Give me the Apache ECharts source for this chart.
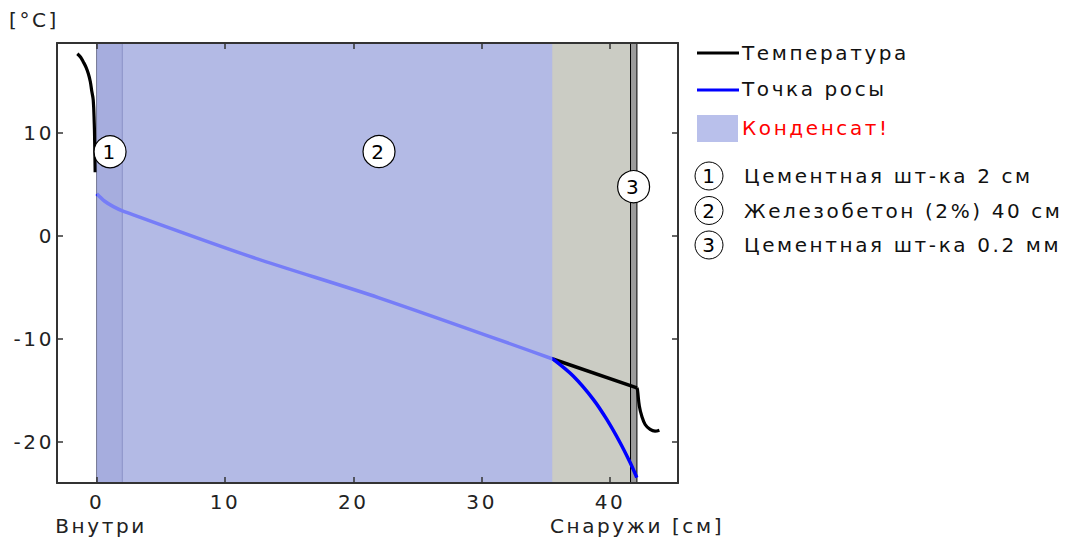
<!DOCTYPE html>
<html><head><meta charset="utf-8">
<script src="https://cdn.jsdelivr.net/npm/echarts@6/dist/echarts.min.js"></script>
<style>
html,body{margin:0;padding:0;background:#fff;}
#chart{width:1073px;height:543px;}
#chart svg text{letter-spacing:2.6px;}
</style></head><body><div id="chart"></div>
<script>
// ---- data ----
const xTickValues = [0, 10, 20, 30, 40];
const yTickValues = [-20, -10, 0, 10];
const layerNames = ['1', '2', '3'];
const layerDescriptions = ['Цементная шт-ка 2 см', 'Железобетон (2%) 40 см', 'Цементная шт-ка 0.2 мм'];
const layerStart = [0, 2, 41.6];
const layerEnd = [2, 41.6, 42.1];
const layerLabelX = [1.04, 22.0, 41.84];
const layerLabelY = [8.18, 8.2, 4.79];
const condensationZone = [0, 35.5];
const tempInsideX = [-1.51, -1.25, -1.04, -0.82, -0.65, -0.5, -0.39, -0.27, -0.19, -0.16, -0.12];
const tempInsideY = [17.7, 17.35, 16.9, 16.35, 15.75, 15.0, 14.1, 13.2, 10.9, 9.3, 6.2];
const tempWallX = [35.54, 42.1];
const tempWallY = [-11.94, -14.74];
const tempOutsideX = [42.1, 42.14, 42.29, 42.48, 42.74, 43.13, 43.51, 43.85];
const tempOutsideY = [-14.74, -14.91, -16.52, -17.49, -18.30, -18.78, -18.94, -18.85];
const dewInnerX = [0, 0.6, 1.3, 2, 12, 22, 35.54];
const dewInnerY = [4.1, 3.4, 2.85, 2.45, -2.0, -6.0, -11.94];
const dewOuterX = [35.54, 37.15, 38.71, 39.75, 40.79, 41.57, 42.09];
const dewOuterY = [-11.94, -13.62, -15.88, -17.81, -20.07, -22.0, -23.46];

// ---- style ----
const FONT = '"DejaVu Sans", Verdana, sans-serif';
const FS = 20;
const X_MIN = -3.094, X_MAX = 45.30, Y_MIN = -23.98, Y_MAX = 18.74;
const layerFills = ['#a2a2aa', '#cbccc4', '#9c9c9c'];
const layerStrokes = ['#55556a', '#55556a', '#000'];
const zip = (xs, ys) => xs.map((x, i) => [x, ys[i]]);

const chart = echarts.init(document.getElementById('chart'), null, {renderer: 'svg'});

function bandRender(fillFn, strokeFn, lw) {
  return function (params, api) {
    const p0 = api.coord([api.value(0), Y_MAX]);
    const p1 = api.coord([api.value(1), Y_MIN]);
    const i = api.value(2);
    return {
      type: 'rect',
      shape: {x: p0[0], y: p0[1], width: p1[0] - p0[0], height: p1[1] - p0[1]},
      style: {fill: fillFn(i), stroke: strokeFn(i), lineWidth: lw}
    };
  };
}

const lineSeries = (name, data, color, smooth, w) => ({
  type: 'line', name, data, smooth, showSymbol: false, symbol: 'none', silent: true, z: 2,
  lineStyle: {color, width: w}, clip: true
});

const axisCommon = {
  type: 'value', z: 5,
  splitLine: {show: false},
  axisLine: {show: true, onZero: false, lineStyle: {color: '#333', width: 2}},
};
const tickStyle = (vals) => ({show: true, inside: true, length: 6, customValues: vals, lineStyle: {color: '#333', width: 1.5}});

const option = {
  animation: false,
  backgroundColor: '#fff',
  grid: {left: 57, top: 43, width: 621, height: 440, containLabel: false},
  xAxis: [
    Object.assign({}, axisCommon, {
      min: X_MIN, max: X_MAX, position: 'bottom',
      axisTick: tickStyle(xTickValues),
      axisLabel: {show: true, customValues: xTickValues, margin: 9, color: '#222', fontSize: FS, fontFamily: FONT}
    }),
    Object.assign({}, axisCommon, {
      min: X_MIN, max: X_MAX, position: 'top',
      axisTick: tickStyle(xTickValues), axisLabel: {show: false}
    })
  ],
  yAxis: [
    Object.assign({}, axisCommon, {
      min: Y_MIN, max: Y_MAX, position: 'left',
      axisTick: tickStyle(yTickValues),
      axisLabel: {show: true, customValues: yTickValues, margin: 3, color: '#222', fontSize: FS, fontFamily: FONT}
    }),
    Object.assign({}, axisCommon, {
      min: Y_MIN, max: Y_MAX, position: 'right',
      axisTick: tickStyle(yTickValues), axisLabel: {show: false}
    })
  ],
  series: [
    {
      type: 'custom', name: 'layers', z: 1, silent: true, clip: true,
      data: layerStart.map((s, i) => [s, layerEnd[i], i]),
      encode: {x: [0, 1]},
      renderItem: bandRender(i => layerFills[i], i => layerStrokes[i], 1)
    },
    lineSeries('Температура', zip(tempInsideX, tempInsideY), '#000', 0.4, 3.2),
    lineSeries('Температура', zip(tempWallX, tempWallY), '#000', false, 3.5),
    lineSeries('Температура', zip(tempOutsideX, tempOutsideY), '#000', 0.4, 3.2),
    lineSeries('Точка росы', zip(dewInnerX, dewInnerY), '#0000ff', 0.3, 3.5),
    lineSeries('Точка росы', zip(dewOuterX, dewOuterY), '#0000ff', 0.3, 3.5),
    {
      type: 'custom', name: 'Конденсат!', z: 3, silent: true, clip: true,
      data: [[condensationZone[0], condensationZone[1], 0]],
      encode: {x: [0, 1]},
      renderItem: bandRender(() => 'rgba(168,178,244,0.7)', () => 'none', 0)
    },
    {
      type: 'scatter', name: 'labels', z: 4, silent: true,
      data: layerLabelX.map((x, i) => [x, layerLabelY[i], layerNames[i]]),
      symbol: 'circle', symbolSize: 32,
      itemStyle: {color: '#fff', borderColor: '#000', borderWidth: 1.2, opacity: 1},
      label: {show: true, position: 'inside', formatter: p => p.data[2], color: '#000', fontSize: FS, fontFamily: FONT}
    }
  ],
  graphic: [
    {type: 'text', x: 9, y: 20, style: {text: '[°C]', fill: '#222', fontSize: FS, fontFamily: FONT, verticalAlign: 'middle'}},
    {type: 'text', x: 101, y: 526, style: {text: 'Внутри', fill: '#222', fontSize: FS, fontFamily: FONT, align: 'center', verticalAlign: 'middle'}},
    {type: 'text', x: 637, y: 526, style: {text: 'Снаружи [см]', fill: '#222', fontSize: FS, fontFamily: FONT, align: 'center', verticalAlign: 'middle'}},
    {type: 'line', shape: {x1: 697, y1: 53, x2: 739, y2: 53}, style: {stroke: '#000', lineWidth: 3}},
    {type: 'text', x: 742, y: 53, style: {text: 'Температура', fill: '#111', fontSize: FS, fontFamily: FONT, verticalAlign: 'middle'}},
    {type: 'line', shape: {x1: 697, y1: 90, x2: 739, y2: 90}, style: {stroke: '#0000ff', lineWidth: 3}},
    {type: 'text', x: 742, y: 89, style: {text: 'Точка росы', fill: '#111', fontSize: FS, fontFamily: FONT, verticalAlign: 'middle'}},
    {type: 'rect', shape: {x: 697, y: 115, width: 41, height: 27}, style: {fill: '#b9c0eb'}},
    {type: 'text', x: 742, y: 128, style: {text: 'Конденсат!', fill: '#ff0000', fontSize: FS, fontFamily: FONT, verticalAlign: 'middle'}}
  ].concat(...layerDescriptions.map((d, i) => {
    const cy = 176 + i * 34.5;
    return [
      {type: 'circle', shape: {cx: 709, cy, r: 14}, style: {fill: '#fff', stroke: '#000', lineWidth: 1}},
      {type: 'text', x: 710, y: cy, style: {text: layerNames[i], fill: '#000', fontSize: FS, fontFamily: FONT, align: 'center', verticalAlign: 'middle'}},
      {type: 'text', x: 744, y: cy, style: {text: d, fill: '#111', fontSize: FS, fontFamily: FONT, verticalAlign: 'middle'}}
    ];
  }))
};
chart.setOption(option);
</script></body></html>
